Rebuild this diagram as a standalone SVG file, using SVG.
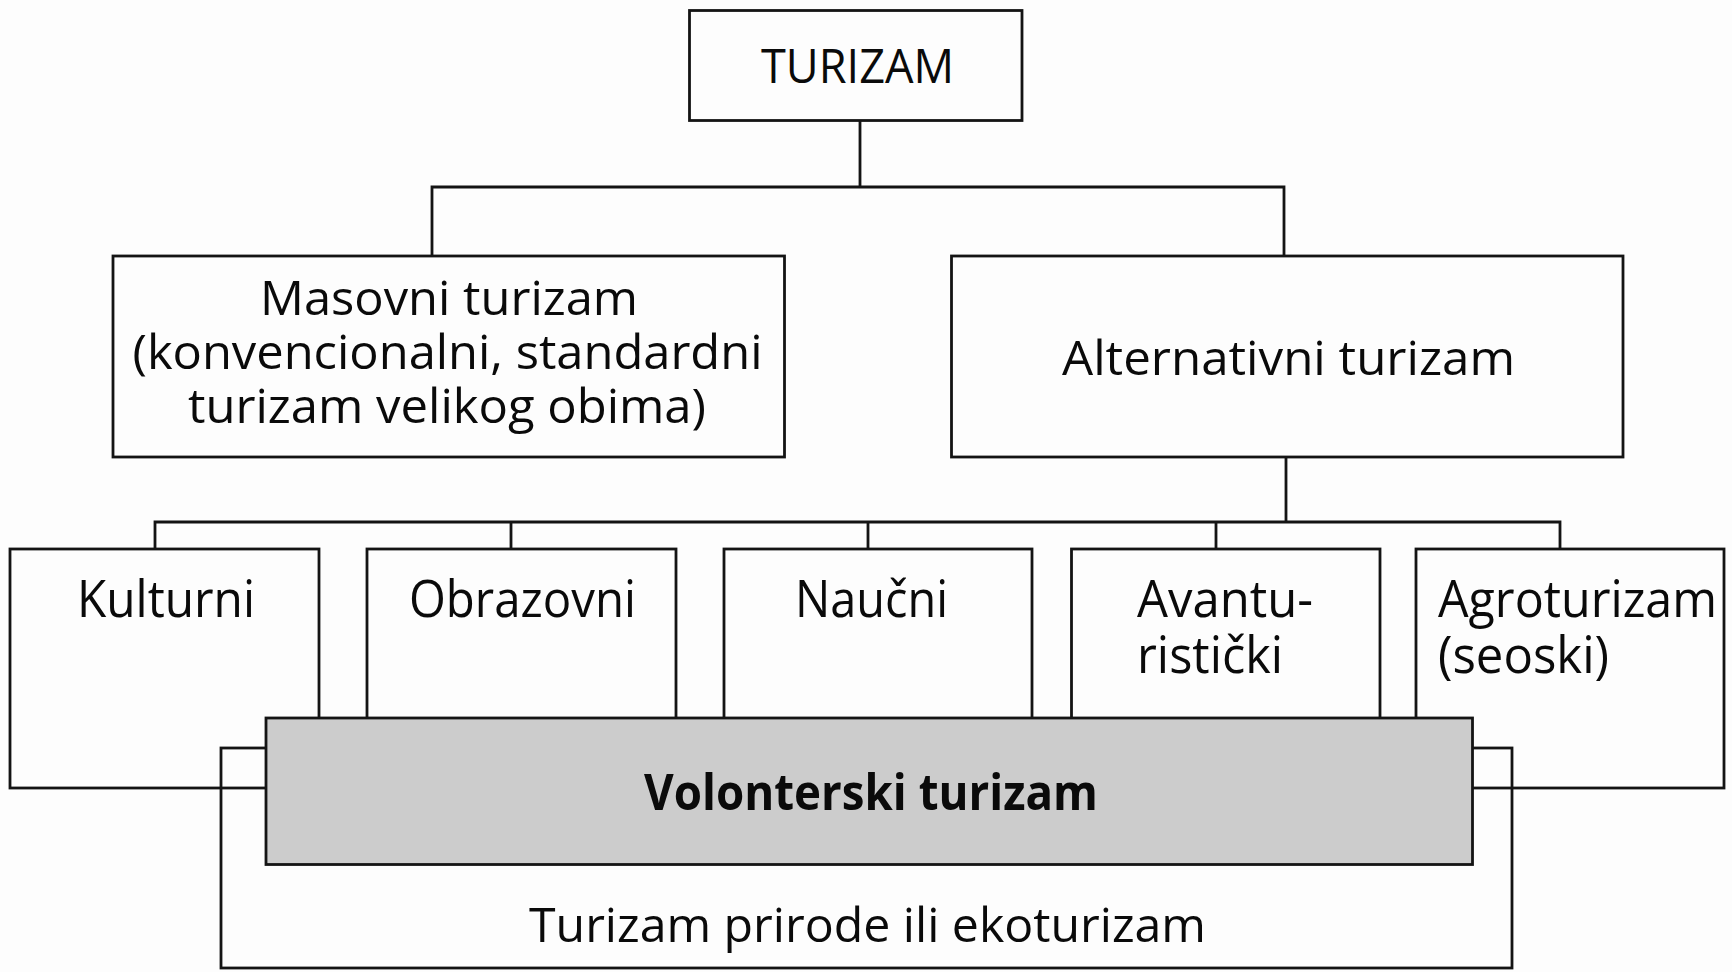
<svg xmlns="http://www.w3.org/2000/svg" width="1732" height="972" viewBox="0 0 1732 972">
<style>
.box{fill:none;stroke:#141414;stroke-width:2.8}
.wbox{fill:#fdfdfd;stroke:#141414;stroke-width:2.8}
.gbox{fill:#cccccc;stroke:#141414;stroke-width:2.8}
.ln{fill:none;stroke:#141414;stroke-width:2.8}
text{font-family:"Open Sans","Liberation Sans",sans-serif;fill:#0a0a0a}
.t1{font-size:48px}
.t2{font-size:52px}
.tb{font-size:51px;font-weight:bold}
</style>
<rect x="0" y="0" width="1732" height="972" fill="#fdfdfd"/>
<g id="connectors">
<path class="ln" d="M860 120.5V187M432 256V187H1284V256"/>
<path class="ln" d="M1286 457V522M155 549V522H1560V549M511 522V549M868 522V549M1216 522V549"/>
</g>
<g id="turizam">
<rect class="wbox" x="689.5" y="10.5" width="332.5" height="110"/>
<text class="t1" x="761" y="83" textLength="193" lengthAdjust="spacingAndGlyphs">TURIZAM</text>
</g>
<g id="masovni">
<rect class="wbox" x="113" y="256" width="671.5" height="201"/>
<text class="t1" x="260" y="315" textLength="378" lengthAdjust="spacingAndGlyphs">Masovni turizam</text>
<text class="t1" x="132.5" y="369" textLength="630" lengthAdjust="spacingAndGlyphs">(konvencionalni, standardni</text>
<text class="t1" x="188" y="423" textLength="518" lengthAdjust="spacingAndGlyphs">turizam velikog obima)</text>
</g>
<g id="alternativni">
<rect class="wbox" x="951.5" y="256" width="671.5" height="201"/>
<text class="t1" x="1062" y="375" textLength="453" lengthAdjust="spacingAndGlyphs">Alternativni turizam</text>
</g>
<g id="kulturni">
<rect class="box" x="10" y="549" width="309" height="239"/>
<text class="t2" x="77" y="617" textLength="178" lengthAdjust="spacingAndGlyphs">Kulturni</text>
</g>
<g id="obrazovni">
<rect class="box" x="367" y="549" width="309" height="190"/>
<text class="t2" x="409" y="617" textLength="227" lengthAdjust="spacingAndGlyphs">Obrazovni</text>
</g>
<g id="naucni">
<rect class="box" x="724" y="549" width="308" height="190"/>
<text class="t2" x="795" y="617" textLength="153" lengthAdjust="spacingAndGlyphs">Naučni</text>
</g>
<g id="avanturisticki">
<rect class="box" x="1071.5" y="549" width="308.5" height="190"/>
<text class="t2" x="1137" y="617" textLength="176" lengthAdjust="spacingAndGlyphs">Avantu-</text>
<text class="t2" x="1137" y="673" textLength="146" lengthAdjust="spacingAndGlyphs">ristički</text>
</g>
<g id="agroturizam">
<rect class="box" x="1416" y="549" width="308" height="239"/>
<text class="t2" x="1438" y="617" textLength="279" lengthAdjust="spacingAndGlyphs">Agroturizam</text>
<text class="t2" x="1438" y="673" textLength="171" lengthAdjust="spacingAndGlyphs">(seoski)</text>
</g>
<g id="ekoturizam">
<rect class="box" x="221" y="748" width="1291" height="220"/>
<text class="t1" x="529" y="942" textLength="677" lengthAdjust="spacingAndGlyphs">Turizam prirode ili ekoturizam</text>
</g>
<g id="volonterski">
<rect class="gbox" x="266" y="718" width="1206.5" height="146.5"/>
<text class="tb" x="644" y="810" textLength="454" lengthAdjust="spacingAndGlyphs">Volonterski turizam</text>
</g>
</svg>
